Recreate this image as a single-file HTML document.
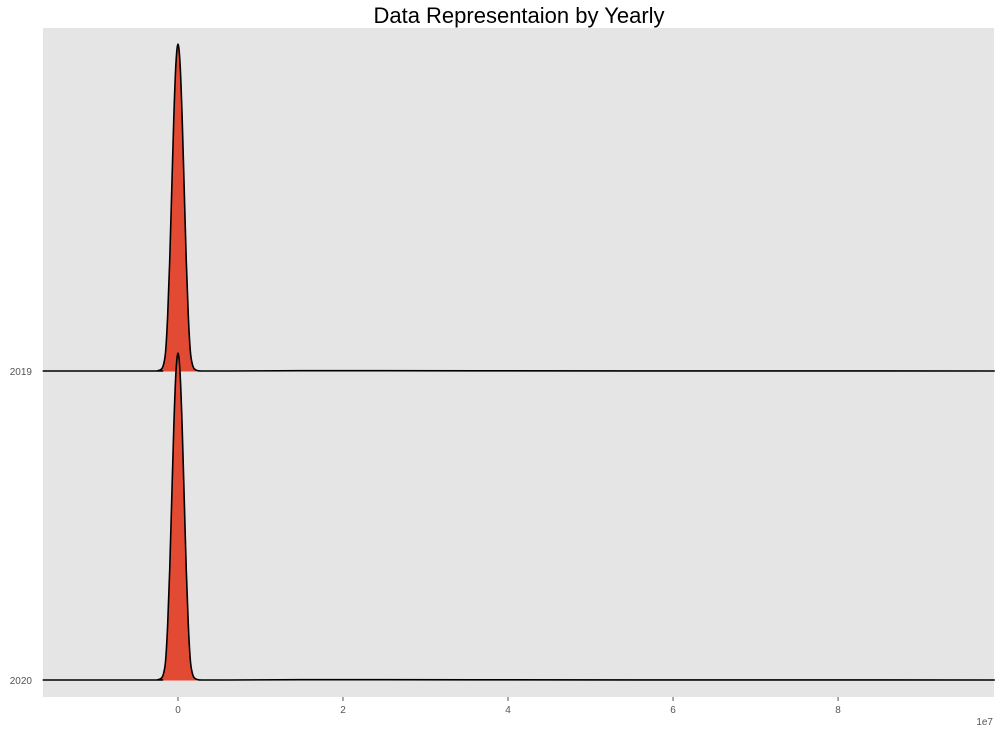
<!DOCTYPE html>
<html><head><meta charset="utf-8"><style>
body{margin:0;background:#fff;font-family:"Liberation Sans",sans-serif}
</style></head><body>
<svg id="chart" width="1000" height="734">
<text x="519" y="23" text-anchor="middle" font-size="22" fill="#000">Data Representaion by Yearly</text>
<rect x="43" y="28" width="951" height="669" fill="#e5e5e5"/>
<g id="ridges"></g>
<g id="xaxis"></g>
<text x="993" y="725" text-anchor="end" font-size="10" fill="#555">1e7</text>
</svg>
<script>
const years = ["2019","2020"];
const xs = [-1.64,-0.3,-0.25,-0.2,-0.175,-0.15,-0.125,-0.1,-0.075,-0.05,-0.025,0,0.025,0.05,0.075,0.1,0.125,0.15,0.175,0.2,0.25,0.3,0.6,1.5,3.6,9.9];
const dens2019 = [0,0,0.0005,0.006,0.02,0.06,0.17,0.34,0.56,0.78,0.94,1,0.94,0.78,0.56,0.34,0.17,0.06,0.02,0.006,0.0005,0,0,0.001,0.0005,0];
const dens2020 = [0,0,0.0005,0.006,0.02,0.06,0.17,0.34,0.56,0.78,0.94,1,0.94,0.78,0.56,0.34,0.17,0.06,0.02,0.006,0.0005,0,0,0.001,0.0005,0];
const xTicks = [0,2,4,6,8];
const xTickLabels = ["0","2","4","6","8"];

const xMin=-1.636, xMax=9.89, left=43, right=994;
const X = v => left + (v - xMin) / (xMax - xMin) * (right - left);
const baselines = [371, 680];
const ridgeH = 327;
const NS="http://www.w3.org/2000/svg";
const svg=document.getElementById('chart');
const rg=document.getElementById('ridges');
const series=[dens2019,dens2020];

function pathFor(d,b){
  const pts=xs.map((x,i)=>[X(x),b-d[i]*ridgeH]);
  let s=`M${pts[0][0]},${pts[0][1]}`;
  for(let i=0;i<pts.length-1;i++){
    const p0=pts[Math.max(0,i-1)],p1=pts[i],p2=pts[i+1],p3=pts[Math.min(pts.length-1,i+2)];
    const c1=[p1[0]+(p2[0]-p0[0])/6,p1[1]+(p2[1]-p0[1])/6];
    const c2=[p2[0]-(p3[0]-p1[0])/6,p2[1]-(p3[1]-p1[1])/6];
    s+=` C${c1[0]},${Math.min(c1[1],b)} ${c2[0]},${Math.min(c2[1],b)} ${p2[0]},${p2[1]}`;
  }
  return s;
}
years.forEach((yr,k)=>{
  const b=baselines[k];
  const line=pathFor(series[k],b);
  const f=document.createElementNS(NS,'path');
  f.setAttribute('d',line+` L${X(xs[xs.length-1])},${b} L${X(xs[0])},${b} Z`);
  f.setAttribute('fill','#e24a33');
  
  
  rg.appendChild(f);
  const bl=document.createElementNS(NS,'line');
  bl.setAttribute('x1',left);bl.setAttribute('x2',right);bl.setAttribute('y1',b);bl.setAttribute('y2',b);
  bl.setAttribute('stroke','#e24a33');bl.setAttribute('stroke-width','1');
  
  
  rg.appendChild(bl);
  const l=document.createElementNS(NS,'path');
  l.setAttribute('d',line);l.setAttribute('fill','none');l.setAttribute('stroke','#000');l.setAttribute('stroke-width','1.6');
  
  
  rg.appendChild(l);
  const t=document.createElementNS(NS,'text');
  t.setAttribute('x',32);t.setAttribute('y',b+4);t.setAttribute('text-anchor','end');
  t.setAttribute('font-size','10');t.setAttribute('fill','#555');t.textContent=yr;
  
  
  svg.appendChild(t);
});
const xa=document.getElementById('xaxis');
xTicks.forEach((v,i)=>{
  const tk=document.createElementNS(NS,'line');
  tk.setAttribute('x1',X(v));tk.setAttribute('x2',X(v));tk.setAttribute('y1',697);tk.setAttribute('y2',701);
  tk.setAttribute('stroke','#555');
  
  
  xa.appendChild(tk);
  const t=document.createElementNS(NS,'text');
  t.setAttribute('x',X(v));t.setAttribute('y',713);t.setAttribute('text-anchor','middle');
  t.setAttribute('font-size','10');t.setAttribute('fill','#555');t.textContent=xTickLabels[i];
  
  
  xa.appendChild(t);
});
</script>
</body></html>
